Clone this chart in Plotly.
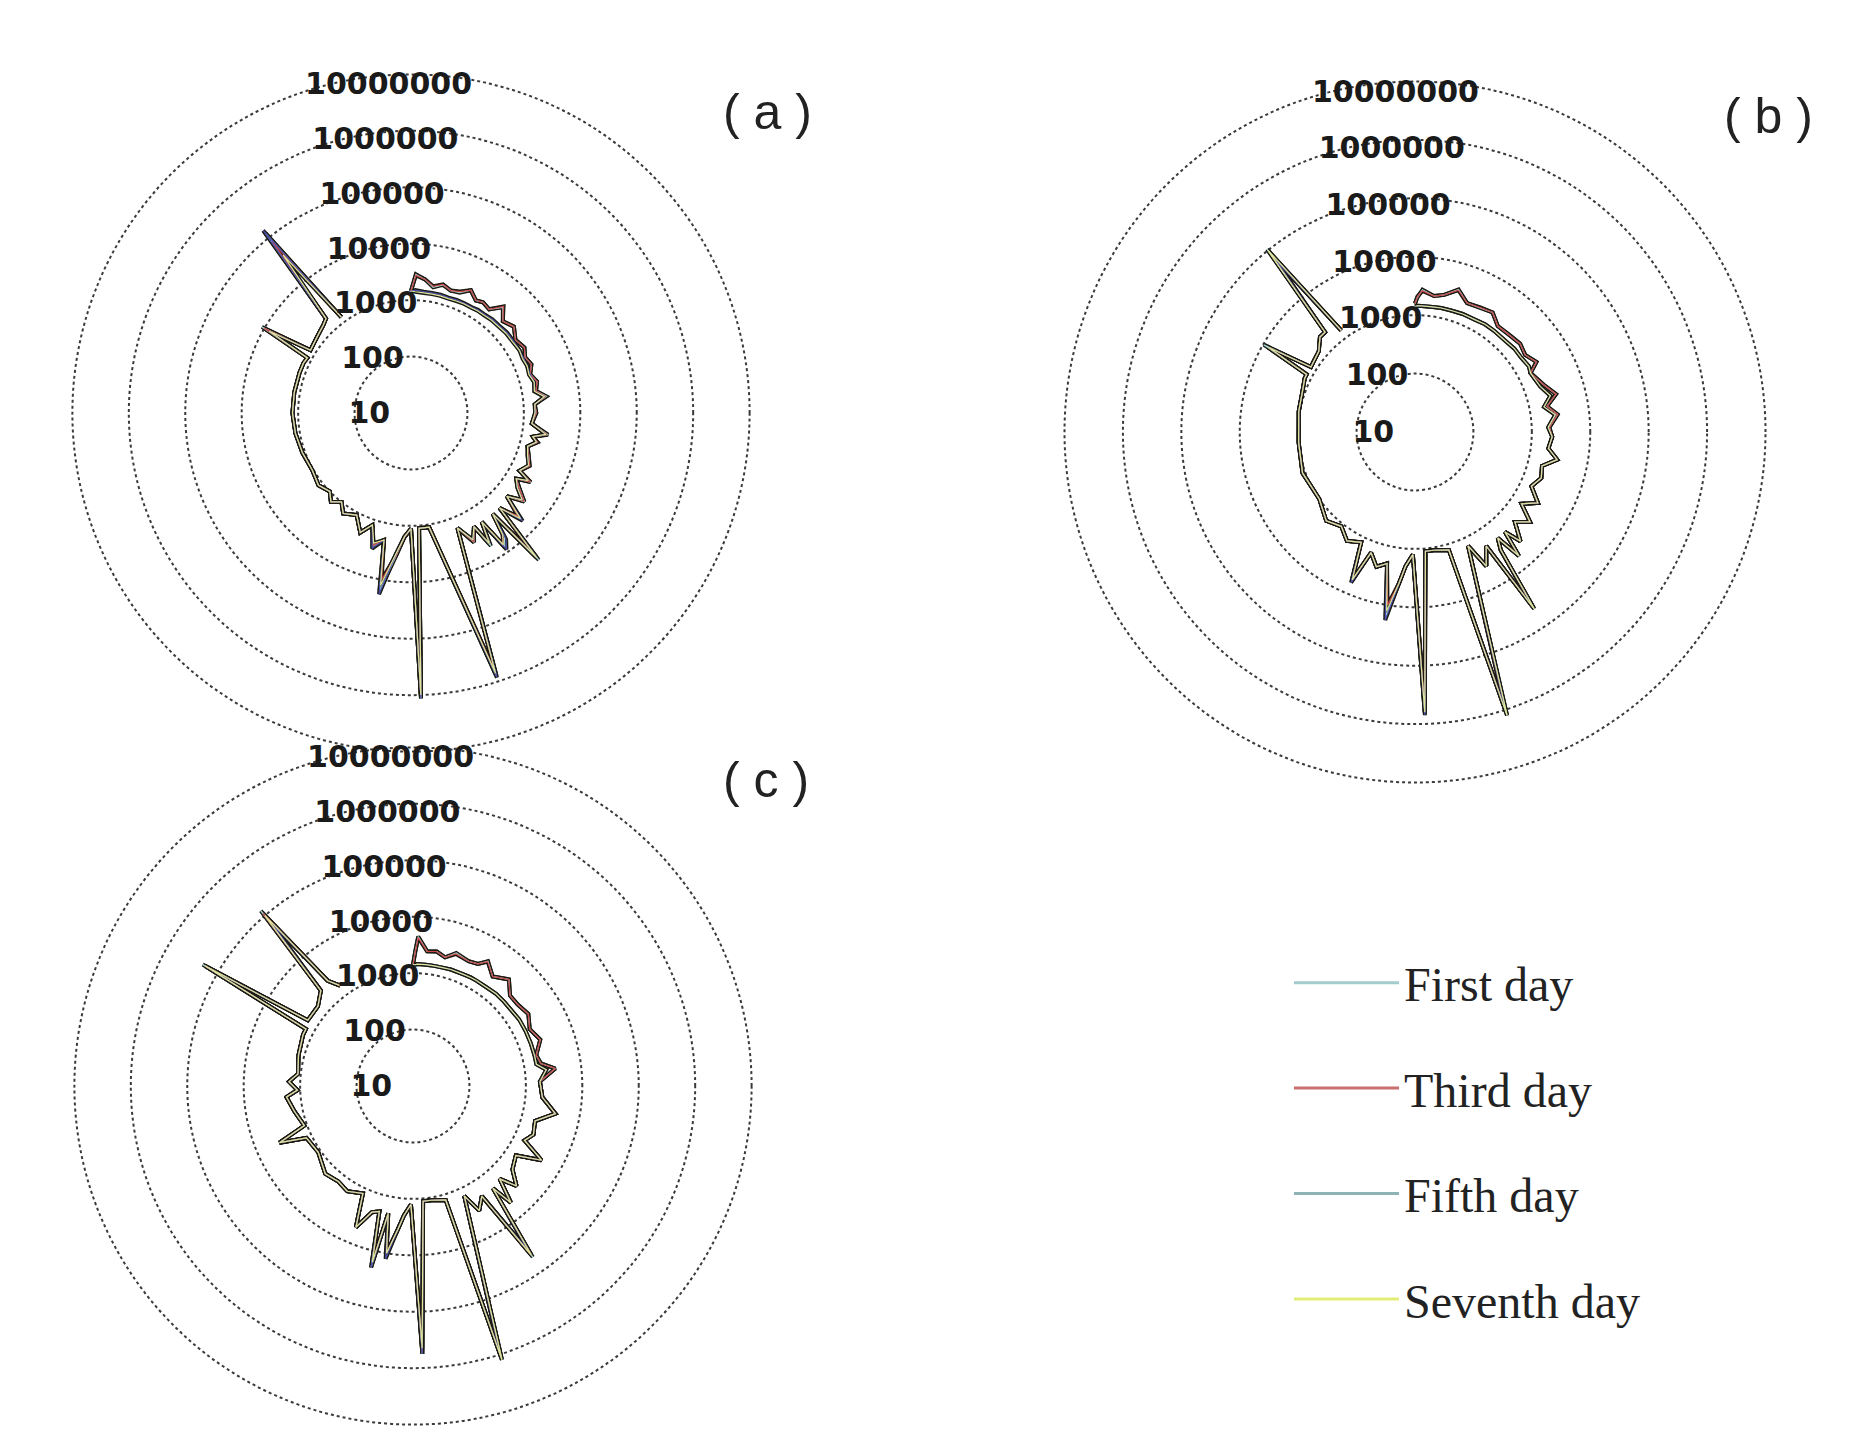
import plotly.graph_objects as go

# angle is measured clockwise from the top of each panel (degrees)
days = ["First day", "Third day", "Fifth day", "Seventh day"]
legend_colors = ["#a3cacc", "#c96f6f", "#8fb3b5", "#e3ee78"]
line_colors = ["#a8d8da", "#cc4b4b", "#4b4fa8", "#dfe69a"]
tick_vals = [10, 100, 1000, 10000, 100000, 1000000, 10000000]
tick_text = ["10", "100", "1000", "10000", "100000", "1000000", "10000000"]

# ---- panel (a)
theta_a = [0, 2, 6, 10, 14, 18, 22, 26, 30, 33, 37, 41, 45, 50, 55, 60, 64, 68, 72, 76,
           80, 83, 86, 90, 95, 99, 101, 103, 106, 110, 114, 118, 120, 122, 125, 128, 131, 134, 137, 139,
           141, 143, 145, 147, 149, 151, 154, 158, 162, 171, 176, 178, 180, 183, 186, 190, 192, 196, 199, 203,
           208, 214, 218, 222, 226, 232, 240, 250, 260, 270, 280, 290, 295, 298, 300, 302, 306, 310, 315, 318,
           321, 324]
first_a = [1450, 2880, 2400, 1820, 2190, 1910, 2000, 2630, 2000, 2190,
           2000, 3020, 2000, 2400, 1820, 2090, 1780, 2000, 1660, 2000,
           1780, 2630, 1580, 1660, 1410, 2880, 1580, 2000, 1410, 1660,
           2000, 1510, 2820, 1580, 2240, 3550, 1780, 4470, 2000, 28200,
           2000, 5620, 7940, 2000, 5620, 2000, 3550, 1580, 794000, 1120,
           1120, 1150000, 1120, 1580, 3550, 15800, 2000, 2820, 1260, 2000,
           1120, 1410, 1000, 1320, 1000, 1200, 1050, 1120, 1200, 1260,
           1260, 1260, 1260, 1200, 11200, 1260, 1320, 1410, 1580, 1780,
           126000, 1260]
third_a = [1450, 2750, 2400, 1910, 2240, 1910, 2090, 2630, 2000, 2190,
           2000, 3160, 2000, 2400, 1820, 2090, 1780, 2000, 1660, 2000,
           1780, 2510, 1580, 1660, 1410, 2750, 1580, 2000, 1410, 1660,
           2000, 1510, 2750, 1580, 2240, 3470, 1780, 4470, 2000, 20000,
           2000, 5010, 7080, 2000, 5010, 2000, 3470, 1580, 631000, 1120,
           1120, 1000000, 1120, 1580, 3470, 10000, 2000, 2750, 1260, 2000,
           1120, 1410, 1000, 1320, 1000, 1200, 1050, 1120, 1200, 1260,
           1260, 1260, 1260, 1200, 10000, 1260, 1320, 1410, 1580, 1780,
           79400, 1260]
fifth_a = [1450, 1510, 1450, 1450, 1450, 1410, 1450, 1450, 1450, 1510,
           1510, 1580, 1580, 1660, 1660, 1660, 1660, 1660, 1660, 1780,
           1660, 2400, 1580, 1580, 1410, 2630, 1580, 1910, 1410, 1580,
           1910, 1510, 2510, 1580, 2000, 3160, 1780, 5620, 2000, 25100,
           2000, 6310, 8910, 2000, 5010, 2000, 3160, 1580, 851000, 1120,
           1120, 1150000, 1120, 1580, 3160, 18200, 2000, 3160, 1260, 2000,
           1120, 1410, 1000, 1320, 1000, 1200, 1050, 1120, 1200, 1260,
           1260, 1260, 1260, 1200, 7940, 1260, 1320, 1410, 1580, 1780,
           145000, 1260]
seventh_a = [1450, 1410, 1380, 1380, 1380, 1350, 1380, 1410, 1410, 1450,
             1450, 1510, 1510, 1580, 1580, 1660, 1580, 1660, 1580, 1780,
             1660, 2400, 1580, 1580, 1410, 2630, 1580, 1910, 1410, 1580,
             1910, 1510, 2510, 1580, 2000, 3160, 1780, 5010, 2000, 25100,
             2000, 5010, 7080, 2000, 5010, 2000, 3160, 1580, 708000, 1120,
             1120, 1000000, 1120, 1580, 3160, 12600, 2000, 2510, 1260, 2000,
             1120, 1410, 1000, 1320, 1000, 1200, 1050, 1120, 1200, 1260,
             1260, 1260, 1260, 1200, 7940, 1260, 1320, 1410, 1580, 1780,
             39800, 1260]

# ---- panel (b)
theta_b = [0, 1, 3, 8, 12, 17, 22, 28, 33, 38, 45, 50, 55, 60, 63, 70, 75, 79, 83, 88,
           92, 97, 101, 105, 110, 115, 120, 124, 128, 132, 136, 138, 140, 142, 144, 146, 148, 152, 155, 162,
           164, 171, 175, 178, 181, 184, 186, 189, 192, 196, 200, 203, 206, 212, 218, 225, 235, 250, 265, 280,
           290, 296, 298, 300, 302, 306, 310, 315, 318, 321, 324]
first_b = [1580, 2000, 2750, 2240, 2510, 3550, 2400, 2510, 2750, 2000,
           2090, 2240, 2000, 2510, 1660, 2240, 3160, 2000, 2880, 2000,
           2240, 2000, 3020, 1780, 2000, 1580, 2690, 1580, 3160, 2000,
           3980, 2000, 5890, 2000, 3160, 44700, 2000, 3980, 1410, 1260000,
           1260, 1120, 1120, 631000, 1260, 2000, 3980, 15800, 2000, 2510,
           1580, 5890, 1260, 1580, 1120, 1410, 1000, 1120, 1000, 1050,
           1120, 1260, 1260, 9770, 1260, 1320, 1410, 2000, 2000, 105000,
           1410]
third_b = [1580, 2090, 2630, 2240, 2510, 3470, 2400, 2570, 2750, 2000,
           2090, 2240, 2000, 2510, 1660, 2240, 3160, 2000, 2880, 2000,
           2240, 2000, 3020, 1780, 2000, 1580, 2690, 1580, 3160, 2000,
           3980, 2000, 5620, 2000, 3160, 39800, 2000, 3980, 1410, 1000000,
           1260, 1120, 1120, 501000, 1260, 2000, 3980, 10000, 2000, 2510,
           1580, 5620, 1260, 1580, 1120, 1410, 1000, 1120, 1000, 1050,
           1120, 1260, 1260, 7940, 1260, 1320, 1410, 2000, 2000, 79400,
           1410]
fifth_b = [1410, 1450, 1450, 1450, 1480, 1480, 1510, 1510, 1580, 1580,
           1580, 1660, 1660, 1780, 1660, 1910, 2510, 1780, 2630, 1910,
           2240, 2000, 3020, 1780, 2000, 1580, 2690, 1580, 3160, 2000,
           3980, 2000, 5890, 2000, 3160, 39800, 2000, 3980, 1410, 1000000,
           1260, 1120, 1120, 708000, 1260, 2000, 3980, 18200, 2000, 2510,
           1580, 6310, 1260, 1580, 1120, 1410, 1000, 1120, 1000, 1050,
           1120, 1260, 1260, 7940, 1260, 1320, 1410, 2000, 2000, 63100,
           1410]
seventh_b = [1410, 1450, 1450, 1450, 1480, 1480, 1510, 1510, 1580, 1580,
             1580, 1660, 1660, 1780, 1660, 1910, 2510, 1780, 2630, 1910,
             2240, 2000, 3020, 1780, 2000, 1580, 2690, 1580, 3160, 2000,
             3980, 2000, 5890, 2000, 3160, 44700, 2000, 3980, 1410, 1260000,
             1260, 1120, 1120, 631000, 1260, 2000, 3980, 12600, 2000, 2510,
             1580, 5620, 1260, 1580, 1120, 1410, 1000, 1120, 1000, 1050,
             1120, 1260, 1260, 7940, 1260, 1320, 1410, 2000, 2000, 100000,
             1410]

# ---- panel (c)
theta_c = [0, 1, 2, 6, 10, 14, 18, 24, 28, 31, 36, 42, 47, 52, 58, 64, 70, 76, 80, 83,
           88, 95, 101, 106, 112, 116, 120, 124, 130, 134, 137, 140, 142, 145, 148, 152, 155, 162, 164, 171,
           175, 178, 181, 184, 186, 189, 191, 193, 195, 198, 202, 205, 212, 218, 225, 235, 244, 247, 250, 258,
           265, 268, 272, 276, 285, 295, 298, 300, 302, 310, 316, 319, 321, 324]
first_c = [1410, 2510, 4470, 2510, 2630, 2240, 3020, 2630, 2820, 3800,
           2510, 3470, 2240, 2240, 2570, 2000, 2510, 1780, 2000, 3470,
           1780, 2000, 3720, 1780, 2000, 1580, 4270, 1580, 2000, 3550,
           1780, 5010, 2000, 50000, 2000, 3160, 1410, 1260000, 1260, 1120,
           1120, 562000, 1260, 2000, 3550, 10000, 2000, 20000, 2000, 2240,
           5010, 1260, 1580, 1410, 1580, 1120, 1260, 3720, 1120, 1410,
           1780, 1120, 1580, 1120, 1260, 1410, 1410, 200000, 1580, 1580,
           2240, 129000, 2510, 1580]
third_c = [1410, 2400, 4270, 2510, 2630, 2240, 2880, 2630, 2820, 3720,
           2510, 3470, 2240, 2240, 2570, 2000, 2510, 1780, 2000, 3470,
           1780, 2000, 3720, 1780, 2000, 1580, 4270, 1580, 2000, 3550,
           1780, 5010, 2000, 44700, 2000, 3160, 1410, 1120000, 1260, 1120,
           1120, 501000, 1260, 2000, 3550, 10000, 2000, 16000, 2000, 2240,
           5010, 1260, 1580, 1410, 1580, 1120, 1260, 3720, 1120, 1410,
           1780, 1120, 1580, 1120, 1260, 1410, 1410, 178000, 1580, 1580,
           2240, 112000, 2510, 1580]
fifth_c = [1410, 1410, 1450, 1450, 1450, 1450, 1480, 1480, 1510, 1510,
           1510, 1580, 1580, 1580, 1660, 1660, 1660, 1660, 1660, 2400,
           1780, 2000, 3720, 1780, 2000, 1580, 4270, 1580, 2000, 3550,
           1780, 5010, 2000, 35500, 2000, 3160, 1410, 1000000, 1260, 1120,
           1120, 562000, 1260, 2000, 3550, 12600, 2000, 20000, 2000, 2240,
           5010, 1260, 1580, 1410, 1580, 1120, 1260, 3720, 1120, 1410,
           1780, 1120, 1580, 1120, 1260, 1410, 1410, 158000, 1580, 1580,
           2240, 63100, 2510, 1580]
seventh_c = [1410, 1410, 1450, 1450, 1450, 1450, 1480, 1480, 1510, 1510,
             1510, 1580, 1580, 1580, 1660, 1660, 1660, 1660, 1660, 2400,
             1780, 2000, 3720, 1780, 2000, 1580, 4270, 1580, 2000, 3550,
             1780, 5010, 2000, 44700, 2000, 3160, 1410, 1260000, 1260, 1120,
             1120, 447000, 1260, 2000, 3550, 10000, 2000, 16000, 2000, 2240,
             5010, 1260, 1580, 1410, 1580, 1120, 1260, 3720, 1120, 1410,
             1780, 1120, 1580, 1120, 1260, 1410, 1410, 178000, 1580, 1580,
             2240, 100000, 2510, 1580]

panels = [
    ("polar", theta_a, [first_a, third_a, fifth_a, seventh_a]),
    ("polar2", theta_b, [first_b, third_b, fifth_b, seventh_b]),
    ("polar3", theta_c, [first_c, third_c, fifth_c, seventh_c]),
]

fig = go.Figure()

# dark outline under every curve
for sub, theta, series in panels:
    for vals in series:
        fig.add_trace(go.Scatterpolar(r=vals, theta=theta, subplot=sub, mode="lines",
                                      line=dict(color="#1b1b14", width=4),
                                      showlegend=False, hoverinfo="skip"))
# coloured curves
for sub, theta, series in panels:
    for name, color, vals in zip(days, line_colors, series):
        fig.add_trace(go.Scatterpolar(r=vals, theta=theta, subplot=sub, mode="lines",
                                      line=dict(color=color, width=1.2),
                                      name=name, showlegend=False))
# legend entries
for name, color in zip(days, legend_colors):
    fig.add_trace(go.Scatterpolar(r=[None], theta=[None], subplot="polar", mode="lines",
                                  line=dict(color=color, width=3), name=name,
                                  legendgroup=name, showlegend=True))

# the page body adds an 8 px margin, so the figure is drawn 16 px smaller
OFF = 8
W, H = 1857 - 2 * OFF, 1455 - 2 * OFF


def px(x, y):
    return (x - OFF) / W, 1 - (y - OFF) / H


def polar_layout(cx, cy, rad):
    x0, y1 = px(cx - rad, cy - rad)
    x1, y0 = px(cx + rad, cy + rad)
    return dict(
        domain=dict(x=[x0, x1], y=[y0, y1]),
        bgcolor="rgba(0,0,0,0)",
        radialaxis=dict(type="log", range=[1, 7.06], angle=76, side="counterclockwise",
                        tickvals=tick_vals, ticktext=tick_text, tickangle=76,
                        showline=False, ticks="", showgrid=True,
                        gridcolor="#3a3a3a", gridwidth=1.8, griddash="dot",
                        tickfont=dict(family="DejaVu Sans", size=30, color="#1a1a1a",
                                      weight="bold")),
        angularaxis=dict(direction="clockwise", rotation=90, showgrid=False,
                         showticklabels=False, ticks="", showline=False),
    )


def label(text, x, y):
    ax, ay = px(x, y)
    return dict(text=text, x=ax, y=ay, xref="paper", yref="paper", xanchor="center",
                yanchor="middle", showarrow=False,
                font=dict(family="Liberation Sans", size=50, color="#222222"))


lx, ly = px(1289, 945)
fig.update_layout(
    width=W, height=H,
    margin=dict(l=0, r=0, t=0, b=0),
    paper_bgcolor="white",
    polar=polar_layout(411, 413, 342),
    polar2=polar_layout(1415, 432, 354),
    polar3=polar_layout(413, 1086, 342),
    legend=dict(x=lx, y=ly, xanchor="left", yanchor="top",
                font=dict(family="Liberation Serif", size=48, color="#222222"),
                tracegroupgap=40, itemwidth=105, bgcolor="rgba(0,0,0,0)"),
    annotations=[
        label("( a )", 767, 112),
        label("( b )", 1768, 116),
        label("( c )", 766, 780),
    ],
)

fig.write_html("out.html")
